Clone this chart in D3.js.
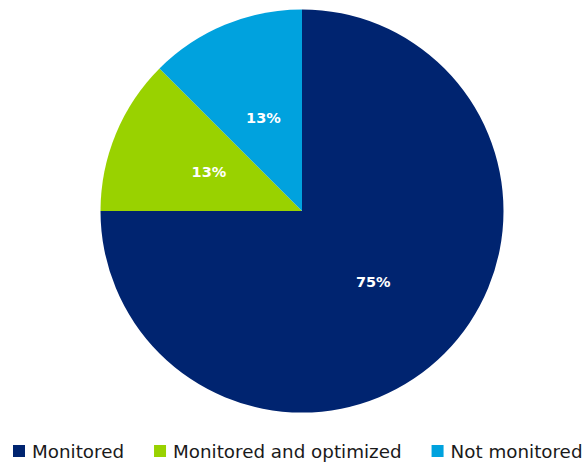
<!DOCTYPE html>
<html>
<head>
<meta charset="utf-8">
<script src="https://cdn.jsdelivr.net/npm/d3@7"></script>
<style>
  html, body { margin: 0; padding: 0; background: #fff; }
  svg { display: block; }
</style>
</head>
<body>
<svg id="chart" width="587" height="464"></svg>
<script>
// Share of assets by monitoring status (percent)
const categories = ["Monitored", "Monitored and optimized", "Not monitored"];
const values = [75, 12.5, 12.5];
const colors = ["#002470", "#99d200", "#00a2de"];

const svg = d3.select("#chart");
const cx = 302, cy = 211, radius = 201.5;
const FONT = "'DejaVu Sans', 'Liberation Sans', sans-serif";

const color = d3.scaleOrdinal().domain(categories).range(colors);

const pie = d3.pie().sort(null).value(d => d.value);
const arcs = pie(categories.map((c, i) => ({ name: c, value: values[i] })));

const arc = d3.arc().innerRadius(0).outerRadius(radius);
const labelArc = d3.arc().innerRadius(radius * 0.5).outerRadius(radius * 0.5);

const g = svg.append("g").attr("transform", `translate(${cx},${cy})`);

g.selectAll("path.slice")
  .data(arcs)
  .join("path")
  .attr("class", "slice")
  .attr("d", arc)
  .attr("fill", d => color(d.data.name));

g.selectAll("text.pct")
  .data(arcs)
  .join("text")
  .attr("class", "pct")
  .attr("transform", d => `translate(${labelArc.centroid(d)})`)
  .attr("text-anchor", "middle")
  .attr("dominant-baseline", "central")
  .attr("fill", "#ffffff")
  .attr("font-family", FONT)
  .attr("font-weight", "bold")
  .attr("font-size", 14.5)
  .text(d => Math.round(d.data.value) + "%");

// Legend along the bottom
const legend = svg.append("g").attr("class", "legend");
const sw = 12, gapText = 7, gapItem = 30, legendY = 451;
const legendLeft = 13, legendRight = 583;
const items = legend.selectAll("g.item")
  .data(categories)
  .join("g")
  .attr("class", "item");

items.append("rect")
  .attr("width", sw)
  .attr("height", sw)
  .attr("y", -sw / 2)
  .attr("fill", d => color(d));

const labels = items.append("text")
  .attr("x", sw + gapText)
  .attr("dominant-baseline", "central")
  .attr("fill", "#1a1a1a")
  .attr("font-family", FONT)
  .attr("font-size", 16)
  .text(d => d);

// scale the label font so the row spans the legend width
let textTotal = 0;
labels.each(function () { textTotal += this.getComputedTextLength(); });
const fixed = categories.length * (sw + gapText) + (categories.length - 1) * gapItem;
const fs = 16 * (legendRight - legendLeft - fixed) / textTotal;
labels.attr("font-size", fs);

let x = legendLeft;
const widths = [];
labels.each(function () { widths.push(this.getComputedTextLength()); });
items.attr("transform", (d, i) => {
  const t = `translate(${x},${legendY})`;
  x += sw + gapText + widths[i] + gapItem;
  return t;
});
</script>
</body>
</html>
